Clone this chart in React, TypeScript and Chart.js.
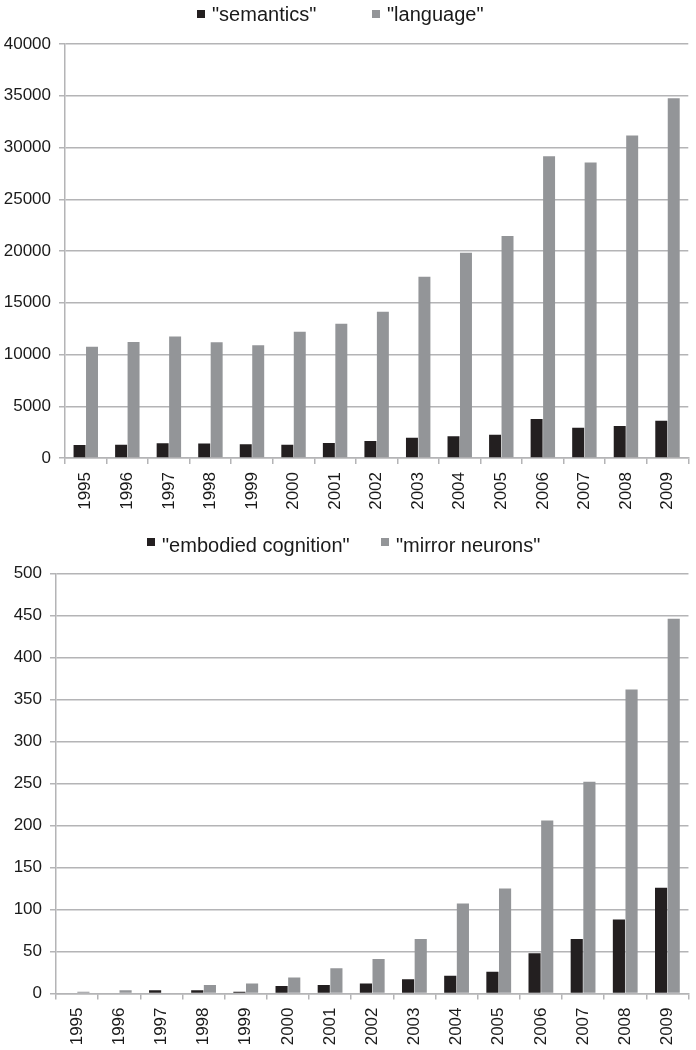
import React, { useEffect, useRef } from "react";
import { Chart, registerables } from "chart.js";

Chart.register(...registerables);

const years = ["1995", "1996", "1997", "1998", "1999", "2000", "2001", "2002", "2003", "2004", "2005", "2006", "2007", "2008", "2009"];

const semantics = [1250, 1290, 1420, 1390, 1320, 1290, 1450, 1640, 1960, 2090, 2250, 3770, 2930, 3090, 3610];
const language = [10750, 11200, 11750, 11180, 10890, 12200, 12970, 14130, 17520, 19830, 21450, 29150, 28560, 31150, 34760];

const embodiedCognition = [0, 0, 4, 4, 2, 9, 10, 12, 17, 21, 26, 48, 65, 88, 126];
const mirrorNeurons = [2, 4, 0, 10, 12, 19, 30, 41, 65, 107, 125, 206, 252, 362, 446];

const topLabels = ['"semantics"', '"language"'];
const bottomLabels = ['"embodied cognition"', '"mirror neurons"'];

const BLACK = "#231f20";
const GRAY = "#939598";
const GRID = "#b4b4b6";
const FONT = "'Liberation Sans', Arial, Helvetica, sans-serif";

const legendPlugin = {
  id: "customLegend",
  afterDraw(chart: any, _args: any, opts: any) {
    if (!opts || !opts.xs) return;
    const ctx = chart.ctx;
    ctx.save();
    ctx.font = `${opts.fontSize}px ${FONT}`;
    ctx.textBaseline = "alphabetic";
    chart.data.datasets.forEach((ds: any, i: number) => {
      const x = opts.xs[i];
      ctx.fillStyle = ds.backgroundColor;
      ctx.fillRect(x, opts.boxY, 8, 8);
      ctx.fillStyle = "#1a1a1a";
      ctx.fillText(ds.label, x + 15, opts.baseline);
    });
    ctx.restore();
  },
};

function makeConfig(
  labelsA: string,
  labelsB: string,
  dataA: number[],
  dataB: number[],
  max: number,
  step: number,
  yWidth: number,
  xHeight: number,
  padTop: number,
  padRight: number,
  legendOpts: any
): any {
  return {
    type: "bar",
    data: {
      labels: years,
      datasets: [
        { label: labelsA, data: dataA, backgroundColor: BLACK, categoryPercentage: 0.6, barPercentage: 0.96 },
        { label: labelsB, data: dataB, backgroundColor: GRAY, categoryPercentage: 0.6, barPercentage: 0.96 },
      ],
    },
    options: {
      animation: false,
      responsive: false,
      maintainAspectRatio: false,
      layout: { padding: { top: padTop, right: padRight, left: 0, bottom: 0 } },
      plugins: {
        legend: { display: false },
        tooltip: { enabled: false },
        customLegend: legendOpts,
      },
      scales: {
        x: {
          grid: { display: true, drawOnChartArea: false, drawTicks: true, tickLength: 6, color: GRID, lineWidth: 1.5, offset: true },
          border: { display: true, color: GRID, width: 1.5 },
          ticks: { minRotation: 90, maxRotation: 90, padding: 8, color: "#1a1a1a", font: { family: FONT, size: 17 } },
          afterFit(scale: any) {
            scale.height = xHeight;
          },
        },
        y: {
          min: 0,
          max: max,
          grid: { color: GRID, lineWidth: 1.5, tickLength: 6, drawTicks: true },
          border: { display: true, color: GRID, width: 1.5 },
          ticks: {
            stepSize: step,
            padding: 8,
            color: "#1a1a1a",
            font: { family: FONT, size: 17 },
            callback: (v: any) => String(v),
          },
          afterFit(scale: any) {
            scale.width = yWidth;
          },
        },
      },
    },
    plugins: [legendPlugin],
  };
}

export default function App() {
  const topRef = useRef<HTMLCanvasElement | null>(null);
  const bottomRef = useRef<HTMLCanvasElement | null>(null);

  useEffect(() => {
    const c1 = new Chart(
      topRef.current as HTMLCanvasElement,
      makeConfig(topLabels[0], topLabels[1], semantics, language, 40000, 5000, 65, 62, 44, 3, {
        xs: [197, 372],
        boxY: 10,
        baseline: 21,
        fontSize: 20,
      })
    );
    const c2 = new Chart(
      bottomRef.current as HTMLCanvasElement,
      makeConfig(bottomLabels[0], bottomLabels[1], embodiedCognition, mirrorNeurons, 500, 50, 56, 56.5, 53.5, 6, {
        xs: [147, 381],
        boxY: 18,
        baseline: 32,
        fontSize: 20,
      })
    );
    return () => {
      c1.destroy();
      c2.destroy();
    };
  }, []);

  return (
    <div style={{ position: "absolute", left: 0, top: 0, width: 696, height: 1050, background: "#fff" }}>
      <canvas ref={topRef} width={696} height={520} style={{ position: "absolute", left: 0, top: 0, width: 696, height: 520 }} />
      <canvas ref={bottomRef} width={696} height={530} style={{ position: "absolute", left: 0, top: 520, width: 696, height: 530 }} />
    </div>
  );
}
